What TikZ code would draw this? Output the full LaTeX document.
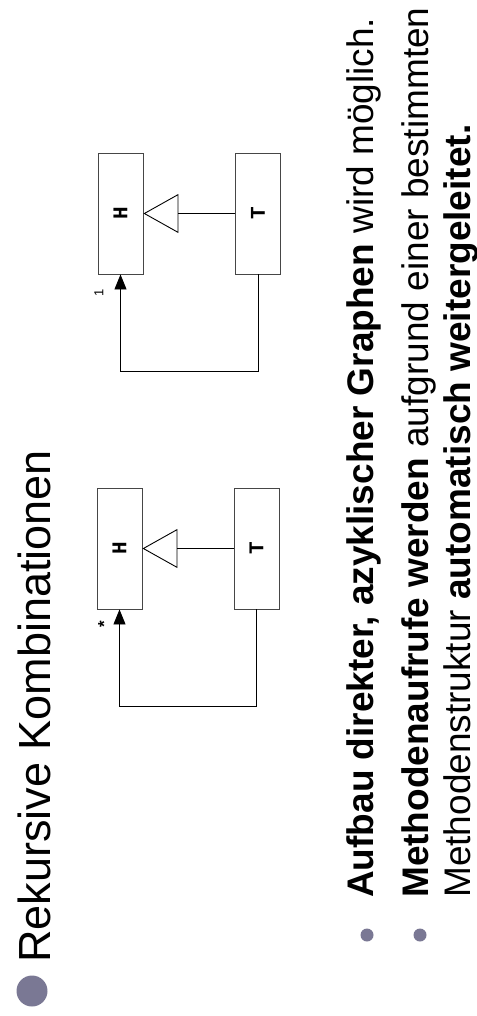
\documentclass[tikz,border=0pt]{standalone}
\usepackage{fontspec}
\setmainfont{Liberation Sans}
\newfontfamily\boxfont{Liberation Mono}
\usepackage{tikz}
\usetikzlibrary{arrows.meta, positioning}
\usepackage{xcolor}
\definecolor{dotgray}{RGB}{122,120,148}
\definecolor{framegray}{RGB}{70,70,70}

\tikzset{
  headline/.style={rotate=90, anchor=base west, inner sep=0pt, font=\fontsize{45}{54}\selectfont},
  textline/.style={rotate=90, anchor=base west, inner sep=0pt, font=\fontsize{37}{44}\selectfont},
  bigdot/.style={circle, fill=dotgray, minimum size=31pt, inner sep=0pt},
  smalldot/.style={circle, fill=dotgray, minimum size=13pt, inner sep=0pt},
  classbox/.style={draw=framegray, line width=0.9pt, rotate=90, minimum width=121pt, minimum height=45pt, inner sep=0pt, font=\boxfont\bfseries\fontsize{21}{21}\selectfont},
  inherit/.style={-{Triangle[open, length=35pt, width=39pt]}, line width=0.9pt},
  assoc/.style={-{Triangle[length=15pt, width=12pt]}, line width=0.9pt},
  mult/.style={rotate=90, inner sep=0pt, font=\bfseries\fontsize{17}{17}\selectfont},
}

\begin{document}
\begin{tikzpicture}[x=1pt, y=-1pt]
  \useasboundingbox (0,0) rectangle (476,1016);
  % Title
  \node[bigdot] (d0) at (32,991) {};
  \node[headline] (title) at (50,963) {Rekursive Kombinationen};
  % Left diagram: many
  \node[classbox] (H1) at (119.5,548.5) {H};
  \node[classbox] (T1) at (256.5,548.5) {T};
  \draw[inherit] (T1.north) -- (H1.south);
  \draw[assoc] (T1.west) -- ++(0,97) -| (H1.west);
  \node[mult] (m1) at (104,624) {*};
  % Right diagram: one
  \node[classbox] (H2) at (120.5,213.5) {H};
  \node[classbox] (T2) at (258,213.5) {T};
  \draw[inherit] (T2.north) -- (H2.south);
  \draw[assoc] (T2.west) -- ++(0,97) -| (H2.west);
  \node[mult, font=\fontsize{13}{13}\selectfont] (m2) at (99,293) {1};
  % Bullets
  \node[smalldot] (d1) at (367,935) {};
  \node[textline] (l1) at (373,898) {\textbf{Aufbau direkter, azyklischer Graphen} wird möglich.};
  \node[smalldot] (d2) at (420,935) {};
  \node[textline] (l2) at (428,898) {\textbf{Methodenaufrufe werden} aufgrund einer bestimmten};
  \node[textline] (l3) at (470,898) {Methodenstruktur \textbf{automatisch weitergeleitet.}};
\end{tikzpicture}
\end{document}
